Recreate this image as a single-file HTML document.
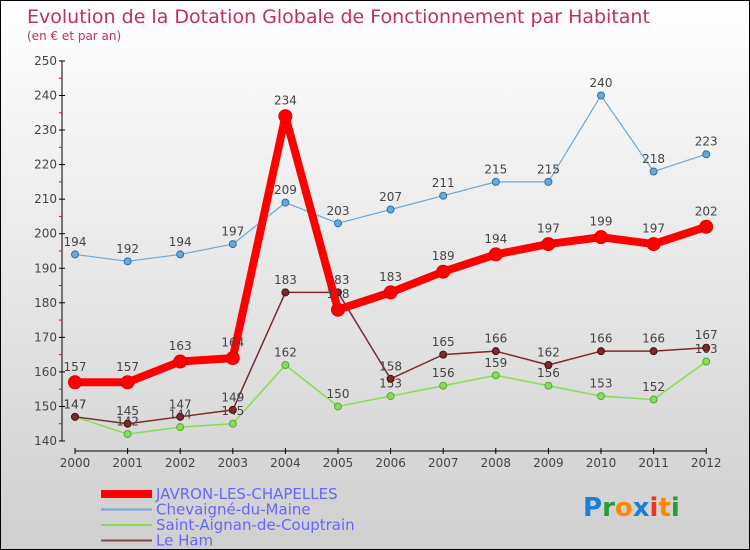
<!DOCTYPE html>
<html><head><meta charset="utf-8"><style>
body{margin:0;}
#wrap{position:relative;width:748px;height:548px;border:1px solid #000;background:linear-gradient(#ffffff,#cfcfcf);font-family:"DejaVu Sans","Liberation Sans",sans-serif;overflow:hidden}
</style></head><body>
<div id="wrap">
<svg id="svg" width="748" height="548" font-family="DejaVu Sans, Liberation Sans, sans-serif"></svg>
</div>
<script>
const years=[2000,2001,2002,2003,2004,2005,2006,2007,2008,2009,2010,2011,2012];
const javron=[157,157,163,164,234,178,183,189,194,197,199,197,202];
const chevaigne=[194,192,194,197,209,203,207,211,215,215,240,218,223];
const saintAignan=[147,142,144,145,162,150,153,156,159,156,153,152,163];
const leHam=[147,145,147,149,183,183,158,165,166,162,166,166,167];
const yTicks=[140,150,160,170,180,190,200,210,220,230,240,250];
const NS="http://www.w3.org/2000/svg";
const svg=document.getElementById('svg');
function mk(t,a,p){const e=document.createElementNS(NS,t);for(const k in a)e.setAttribute(k,a[k]);(p||svg).appendChild(e);return e;}
const x=i=>74+i*52.6;
const y=v=>440-(v-140)*3.455;
// title
let t=mk('text',{x:26,y:22,fill:'#c0305a','font-size':19});t.textContent='Evolution de la Dotation Globale de Fonctionnement par Habitant';

t=mk('text',{x:26,y:39,fill:'#c0305a','font-size':12});t.textContent='(en € et par an)';

// y axis
let ya=mk('g',{});
mk('line',{x1:61,y1:y(250),x2:61,y2:y(140),stroke:'#000'},ya);
yTicks.forEach(v=>{mk('line',{x1:58,x2:64,y1:y(v),y2:y(v),stroke:'#000'},ya);
 if(v<250)mk('line',{x1:58,x2:61,y1:y(v+5),y2:y(v+5),stroke:'#f00'},ya);
 const l=mk('text',{x:56,y:y(v)+4,'text-anchor':'end','font-size':12,fill:'#444'},ya);l.textContent=v;});
// x axis
let xa=mk('g',{});
mk('line',{x1:x(0),x2:x(12),y1:450,y2:450,stroke:'#000'},xa);
years.forEach((yr,i)=>{mk('line',{x1:x(i),x2:x(i),y1:447,y2:453,stroke:'#000'},xa);
 const l=mk('text',{x:x(i),y:466,'text-anchor':'middle','font-size':12,fill:'#444'},xa);l.textContent=yr;});
function series(d,col,w,r,name,dark){
 const g=mk('g',{});
 mk('polyline',{points:d.map((v,i)=>x(i)+','+y(v)).join(' '),fill:'none',stroke:col,'stroke-width':w,'stroke-linejoin':'round'},g);
 d.forEach((v,i)=>{const c=mk('circle',{cx:x(i),cy:y(v),r:r,fill:col,stroke:dark,'stroke-width':1},g);
  
  const l=mk('text',{x:x(i),y:y(v)-(r+5),'text-anchor':'middle','font-size':12,fill:'#444'},g);l.textContent=v;});
}
series(saintAignan,'#88dd55',1.5,3.5,'series-saint-aignan','#55aa33');
series(leHam,'#7a2a2a',1.5,3.5,'series-le-ham','#4a1010');
series(chevaigne,'#6aa8d8',1.2,3.5,'series-chevaigne','#3070a0');
series(javron,'#ff0000',8,6.5,'series-javron','#e00000');
// legend
const leg=[['JAVRON-LES-CHAPELLES','#ff0000',8],['Chevaigné-du-Maine','#6aa8d8',2],['Saint-Aignan-de-Couptrain','#88dd55',2],['Le Ham','#8a4a4a',2]];
leg.forEach((e,i)=>{const g=mk('g',{});
 const yy=493+i*15.5;mk('line',{x1:100,x2:151,y1:yy,y2:yy,stroke:e[1],'stroke-width':e[2]},g);
 const l=mk('text',{x:155,y:yy+5,'font-size':15,fill:'#6666ff'},g);l.textContent=e[0];});
// logo
const lg=mk('text',{x:582,y:515,'font-size':26,'font-weight':'bold'});

[['P','#1a7fd8'],['r','#2a9a3a'],['o','#ff8800'],['x','#1a7fd8'],['i','#ee3322'],['t','#ff8800'],['i','#2a9a3a']].forEach(c=>{const s=mk('tspan',{fill:c[1]},lg);s.textContent=c[0];});
</script>
</body></html>
